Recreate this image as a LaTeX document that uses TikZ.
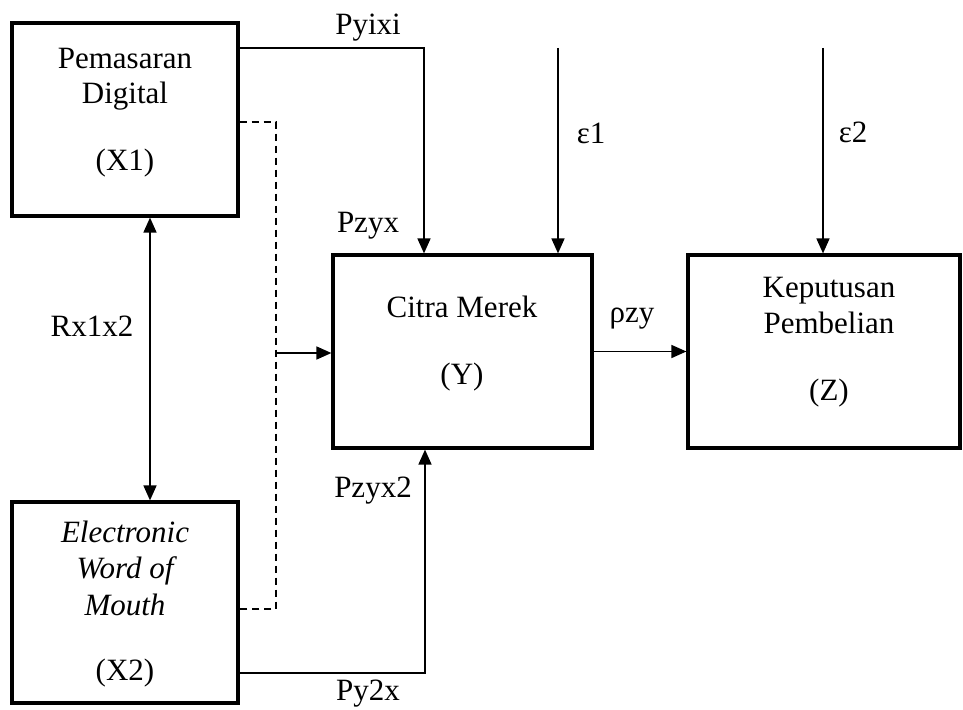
\documentclass[tikz,border=0pt]{standalone}
\usepackage{fontspec}
\setmainfont{Liberation Serif}
\usetikzlibrary{arrows.meta}
\begin{document}
\begin{tikzpicture}[x=1pt,y=-1pt,
  font=\fontsize{31}{36}\selectfont,
  boxnode/.style={draw,line width=3.2pt,rectangle,inner sep=0pt},
  conn/.style={line width=1.6pt,-{Triangle[length=15pt,width=13pt]}},
  dconn/.style={line width=1.6pt,{Triangle[length=15pt,width=13pt]}-{Triangle[length=15pt,width=13pt]}},
  dashline/.style={line width=1.6pt,dash pattern=on 7pt off 5pt},
  txt/.style={anchor=base,inner sep=0pt}]
\useasboundingbox (0,0) rectangle (963,709);
% boxes
\node[boxnode,minimum width=226pt,minimum height=193pt] (x1) at (125,119.5) {};
\node[boxnode,minimum width=226pt,minimum height=201pt] (x2) at (125,602.5) {};
\node[boxnode,minimum width=259pt,minimum height=193pt] (y) at (462.5,351.5) {};
\node[boxnode,minimum width=272pt,minimum height=193pt] (z) at (824,351.5) {};
% box texts
\node[txt] (x1a) at (125,68) {Pemasaran};
\node[txt] (x1b) at (125,103) {Digital};
\node[txt] (x1c) at (125,170) {(X1)};
\node[txt] (x2a) at (125,542) {\itshape Electronic};
\node[txt] (x2b) at (125,578) {\itshape Word of};
\node[txt] (x2c) at (125,615) {\itshape Mouth};
\node[txt] (x2d) at (125,680) {(X2)};
\node[txt] (ya) at (462,317) {Citra Merek};
\node[txt] (yb) at (462,384) {(Y)};
\node[txt] (za) at (829,297) {Keputusan};
\node[txt] (zb) at (829,333) {Pembelian};
\node[txt] (zc) at (829,400) {(Z)};
% coordinates
\coordinate (pa) at (424,48);
\coordinate (e1) at (558,48);
\coordinate (e2) at (823,48);
\coordinate (r) at (150,0);
\coordinate (d1) at (276,122);
\coordinate (d2) at (276,609);
\coordinate (dm) at (276,353);
\coordinate (pb) at (425,673);
% connectors
\draw[conn] (x1.east |- pa) -| (y.north -| pa);
\draw[conn] (e1) -- (y.north -| e1);
\draw[conn] (e2) -- (z.north -| e2);
\draw[conn] (y.east) -- (z.west);
\draw[dconn] (x1.south -| r) -- (x2.north -| r);
\draw[dashline] (x1.east |- d1) -- (d1) -- (d2) -- (x2.east |- d2);
\draw[conn] (dm) -- (y.west |- dm);
\draw[conn] (x2.east |- pb) -| (y.south -| pb);
% labels
\node[txt] (lpyixi) at (368,35) {Pyixi};
\node[txt] (lpzyx) at (368,232) {Pzyx};
\node[txt] (le1) at (591,143) {ε1};
\node[txt] (le2) at (853,142) {ε2};
\node[txt] (lrho) at (632,322) {ρzy};
\node[txt] (lrx) at (92,336) {Rx1x2};
\node[txt] (lpzyx2) at (373,497) {Pzyx2};
\node[txt] (lpy2x) at (368,700) {Py2x};
\end{tikzpicture}
\end{document}
